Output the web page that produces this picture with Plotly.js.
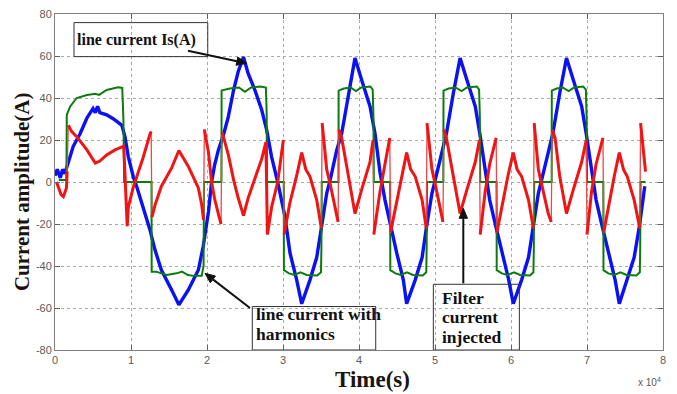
<!DOCTYPE html>
<html>
<head>
<meta charset="utf-8">
<script src="https://cdn.plot.ly/plotly-3.0.1.min.js"></script>
<style>html,body{margin:0;padding:0;background:#fff}#chart{width:677px;height:394px}</style>
</head>
<body>
<div id="chart"></div>
<script>
// Time axis values are in units of 10^4 samples
const xTickVals = [0,1,2,3,4,5,6,7,8];
const xTickText = ['0','1','2','3','4','5','6','7','8'];
const yTickVals = [-80,-60,-40,-20,0,20,40,60,80];
const yTickText = ['-80','-60','-40','-20','0','20','40','60','80'];

// line current Is(A) (blue)
const blueX = [0.00,0.03,0.07,0.10,0.13,0.17,0.24,0.33,0.42,0.50,0.53,0.56,0.59,0.68,0.77,0.88,0.92,0.965,1.03,1.075,1.16,1.25,1.316,1.40,1.535,1.63,1.754,1.886,1.95,2.02,2.06,2.10,2.15,2.21,2.28,2.35,2.41,2.48,2.54,2.63,2.72,2.785,2.85,2.93,3.026,3.092,3.18,3.246,3.355,3.443,3.509,3.575,3.618,3.706,3.772,3.86,3.947,4.035,4.145,4.211,4.276,4.342,4.408,4.496,4.583,4.627,4.74,4.83,4.89,4.96,5.00,5.09,5.15,5.24,5.33,5.42,5.53,5.59,5.66,5.72,5.79,5.88,5.97,6.03,6.14,6.23,6.29,6.36,6.40,6.49,6.55,6.64,6.73,6.82,6.93,6.99,7.06,7.12,7.19,7.28,7.37,7.425,7.53,7.62,7.69,7.735,7.76];
const blueY = [3,6,2,6,4,9,17,23,30.5,35,33,36,33,32,30,27,21.6,12,2.5,-2.2,-11.7,-22.8,-32.4,-41.9,-51.4,-58.5,-51.4,-41.9,-30.7,-14,0,8,15.3,21.6,31,43.8,52.5,59.5,51.8,43.8,34.3,24.8,12,0,-16.5,-33.8,-46.6,-58,-46.6,-36,-21,-5.4,0.5,15,23,42,59,48.6,36,23,4.6,-8.6,-19.6,-33.8,-46.6,-58,-46.6,-36,-21,-5.4,0.5,15,23,42,59,48.6,36,23,4.6,-8.6,-19.6,-33.8,-46.6,-58,-46.6,-36,-21,-5.4,0.5,15,23,42,59,48.6,36,23,4.6,-8.6,-19.6,-33.8,-46.6,-58,-46.6,-36,-21,-10,-2];

// line current with harmonics (green)
const greenX = [0.05,0.15,0.155,0.20,0.285,0.42,0.53,0.58,0.68,0.83,0.885,0.90,0.91,1.27,1.272,1.33,1.47,1.60,1.67,1.75,1.82,1.93,1.955,1.96,2.19,2.192,2.30,2.42,2.50,2.58,2.70,2.775,2.785,2.79,3.01,3.012,3.08,3.15,3.23,3.31,3.45,3.50,3.505,3.51,3.73,3.732,3.80,3.89,3.96,4.03,4.15,4.18,4.19,4.195,4.41,4.412,4.48,4.55,4.63,4.71,4.84,4.885,4.89,4.895,5.11,5.112,5.18,5.27,5.35,5.42,5.55,5.58,5.59,5.595,5.81,5.812,5.88,5.95,6.04,6.12,6.25,6.295,6.30,6.305,6.535,6.537,6.60,6.68,6.76,6.83,6.95,6.985,6.995,7.00,7.215,7.217,7.28,7.36,7.44,7.52,7.65,7.695,7.70,7.705,7.77];
const greenY = [1,1,32,36,40,41.4,42,41.5,43.8,45.1,44.8,30,0,0,-42.7,-42.7,-44.3,-43.5,-42.7,-44.3,-44.7,-44.7,-40,0,0,43.5,44.5,45,43,45,45.5,45,33,0,0,-42,-43.5,-44.3,-43,-44.3,-44.5,-43,-32,0,0,43.5,44.5,45,43.3,45,45.5,44,31,0,0,-42,-43.5,-44.3,-43,-44.3,-44.5,-43,-32,0,0,43.5,44.5,45,43.3,45,45.5,44,31,0,0,-42,-43.5,-44.3,-43,-44.3,-44.5,-43,-32,0,0,43.5,44.5,45,43.3,45,45.5,44,31,0,0,-42,-43.5,-44.3,-43,-44.3,-44.5,-43,-32,0,0];

// Filter current injected (red)
const redX = [0.02,0.05,0.08,0.11,0.15,0.16,0.175,0.22,0.285,0.42,0.53,0.59,0.68,0.79,0.89,0.905,0.95,0.965,1.03,1.075,1.16,1.25,1.265,1.275,1.316,1.40,1.47,1.535,1.63,1.754,1.82,1.886,1.93,1.955,1.965,2.02,2.06,2.10,2.15,2.185,2.195,2.21,2.28,2.35,2.41,2.48,2.54,2.63,2.72,2.775,2.795,2.85,2.93,3.005,3.015,3.09,3.18,3.246,3.30,3.355,3.443,3.505,3.515,3.575,3.618,3.706,3.725,3.735,3.772,3.86,3.947,4.035,4.145,4.185,4.195,4.276,4.342,4.405,4.415,4.49,4.56,4.627,4.68,4.74,4.83,4.885,4.895,4.96,5.00,5.09,5.105,5.115,5.15,5.24,5.33,5.42,5.53,5.585,5.595,5.66,5.72,5.805,5.815,5.89,5.96,6.03,6.08,6.14,6.23,6.295,6.305,6.36,6.40,6.49,6.53,6.54,6.58,6.64,6.73,6.82,6.93,6.99,7.00,7.06,7.12,7.21,7.22,7.29,7.36,7.425,7.48,7.53,7.62,7.695,7.705,7.77];
const redY = [0,-3,-6,-7,-3,5,27,24,21.6,15.3,9,10,12.9,15.3,16.8,17,-21,-12,-2.5,2.2,11.7,22.8,24,-16.7,-11,-2,2.7,6.7,15,7.4,2.3,-2.8,-10.7,-18,25,14,0,-8,-15.3,-20,23.5,22.4,13,1,-7.5,-16,-7.8,1.4,11,19,-25,-12,0,20,-25,-10,3,14,6,2.6,-8.5,-22,28,6,-0.5,-15,-19,25,21,3,-15,-3.6,9.5,20,-25,-4.6,8.6,21,-24,-10,3,14,6,2.6,-8.5,-22,28,6,-0.5,-15,-19,25,21,3,-15,-3.6,9.5,20,-25,-4.6,8.6,21,-24,-10,3,14,6,2.6,-8.5,-22,28,6,-0.5,-15,-19,25,21,3,-15,-3.6,9.5,20,-25,-4.6,8.6,21,-24,-10,3,14,6,2.6,-8.5,-22,28,5];

// The fast jumps of the filter current are drawn thin; the slow parts thick (break at jumps)
const redThickX = [], redThickY = [];
for (let i = 0; i < redX.length; i++) {
  if (i > 0 && redX[i] - redX[i - 1] < 0.02 && Math.abs(redY[i] - redY[i - 1]) > 15) {
    redThickX.push(null); redThickY.push(null);
  }
  redThickX.push(redX[i]); redThickY.push(redY[i]);
}

const serif = '"Liberation Serif", "Times New Roman", serif';
const sans = '"Liberation Sans", Arial, sans-serif';

const traces = [
  {x: blueX, y: blueY, type: 'scatter', mode: 'lines', line: {color: '#0a12f5', width: 3.4}, hoverinfo: 'skip'},
  {x: greenX, y: greenY, type: 'scatter', mode: 'lines', line: {color: '#0c7a0c', width: 2}, hoverinfo: 'skip'},
  {x: redX, y: redY, type: 'scatter', mode: 'lines', line: {color: '#e84848', width: 1.3}, hoverinfo: 'skip'},
  {x: redThickX, y: redThickY, type: 'scatter', mode: 'lines', connectgaps: false, line: {color: '#f01414', width: 3}, hoverinfo: 'skip'}
];

const axisCommon = {
  showline: true, linecolor: '#808080', linewidth: 1, mirror: 'allticks',
  ticks: 'inside', ticklen: 5, tickcolor: '#606060', tickwidth: 1,
  showgrid: true, gridcolor: '#a8a8a8', griddash: 'dot', gridwidth: 1,
  zeroline: false, tickfont: {family: sans, size: 11, color: '#5a5a5a'}
};

const boxLine = {color: '#333', width: 1};
const f16 = {family: serif, size: 16, color: '#111'};
const f17 = {family: serif, size: 17.5, color: '#111'};
const titleColor = '#1c140c';

function label(x, y, text, font) {
  return {xref: 'x', yref: 'y', x: x, y: y, xanchor: 'left', yanchor: 'middle', showarrow: false, text: text, font: font};
}

// Arrow drawn as shapes; tail/head given in screen pixels of the 677x394 figure
const PL = 55, PT = 14, PW = 608, PH = 336;
function toX(px) { return (px - PL) / PW * 8; }
function toY(py) { return 80 - (py - PT) / PH * 160; }
function arrowShapes(tx, ty, hx, hy) {
  const dx = hx - tx, dy = hy - ty, L = Math.hypot(dx, dy);
  const ux = dx / L, uy = dy / L, len = 10, hw = 4.2;
  const bx = hx - ux * len, by = hy - uy * len;
  const p1x = bx - uy * hw, p1y = by + ux * hw, p2x = bx + uy * hw, p2y = by - ux * hw;
  return [
    {type: 'line', xref: 'x', yref: 'y', x0: toX(tx), y0: toY(ty), x1: toX(bx), y1: toY(by), line: {color: '#111', width: 2}},
    {type: 'path', xref: 'x', yref: 'y', path: 'M' + toX(hx) + ',' + toY(hy) + ' L' + toX(p1x) + ',' + toY(p1y) + ' L' + toX(p2x) + ',' + toY(p2y) + ' Z', fillcolor: '#111', line: {color: '#111', width: 1}}
  ];
}

const layout = {
  width: 677, height: 394,
  margin: {l: 55, r: 14, t: 14, b: 44},
  paper_bgcolor: '#fff', plot_bgcolor: '#fff',
  showlegend: false,
  xaxis: Object.assign({}, axisCommon, {range: [0, 8], tickmode: 'array', tickvals: xTickVals, ticktext: xTickText}),
  yaxis: Object.assign({}, axisCommon, {range: [-80, 80], tickmode: 'array', tickvals: yTickVals, ticktext: yTickText}),
  shapes: [
    {type: 'rect', xref: 'x', yref: 'y', x0: 0.25, x1: 2.01, y0: 59.7, y1: 75.9, line: boxLine, fillcolor: 'rgba(255,255,255,0)'},
    {type: 'rect', xref: 'x', yref: 'y', x0: 2.596, x1: 4.22, y0: -80, y1: -59.3, line: boxLine, fillcolor: 'rgba(255,255,255,0)'},
    {type: 'rect', xref: 'x', yref: 'y', x0: 4.978, x1: 6.11, y0: -80, y1: -48.7, line: boxLine, fillcolor: 'rgba(255,255,255,0)'}
  ].concat(
    arrowShapes(188, 50.7, 246.7, 63.3),
    arrowShapes(250, 308, 205, 273.3),
    arrowShapes(463.3, 283.3, 463.3, 208.3)
  ),
  annotations: [
    label(0.26, 67.6, '<b>line current Is(A)</b>', f16),
    label(2.615, -62.9, '<b>line current with</b>', f17),
    label(2.615, -72.4, '<b>harmonics</b>', f17),
    label(5.07, -55.0, '<b>Filter</b>', f17),
    label(5.07, -64.5, '<b>current</b>', f17),
    label(5.07, -74.0, '<b>injected</b>', f17),
    {xref: 'paper', yref: 'paper', x: 0.523, y: -0.089, xanchor: 'center', yanchor: 'middle', showarrow: false, text: '<b>Time(s)</b>', font: {family: serif, size: 23, color: titleColor}},
    {xref: 'paper', yref: 'paper', x: -0.0543, y: 0.473, xanchor: 'center', yanchor: 'middle', textangle: -90, showarrow: false, text: '<b>Current amplitude(A)</b>', font: {family: serif, size: 21, color: titleColor}},
    {xref: 'paper', yref: 'paper', x: 1.0, y: -0.095, xanchor: 'right', yanchor: 'middle', showarrow: false, text: 'x 10<sup>4</sup>', font: {family: sans, size: 10, color: '#5a5a5a'}}
  ]
};

Plotly.newPlot('chart', traces, layout, {staticPlot: true, displayModeBar: false});
</script>
</body>
</html>
